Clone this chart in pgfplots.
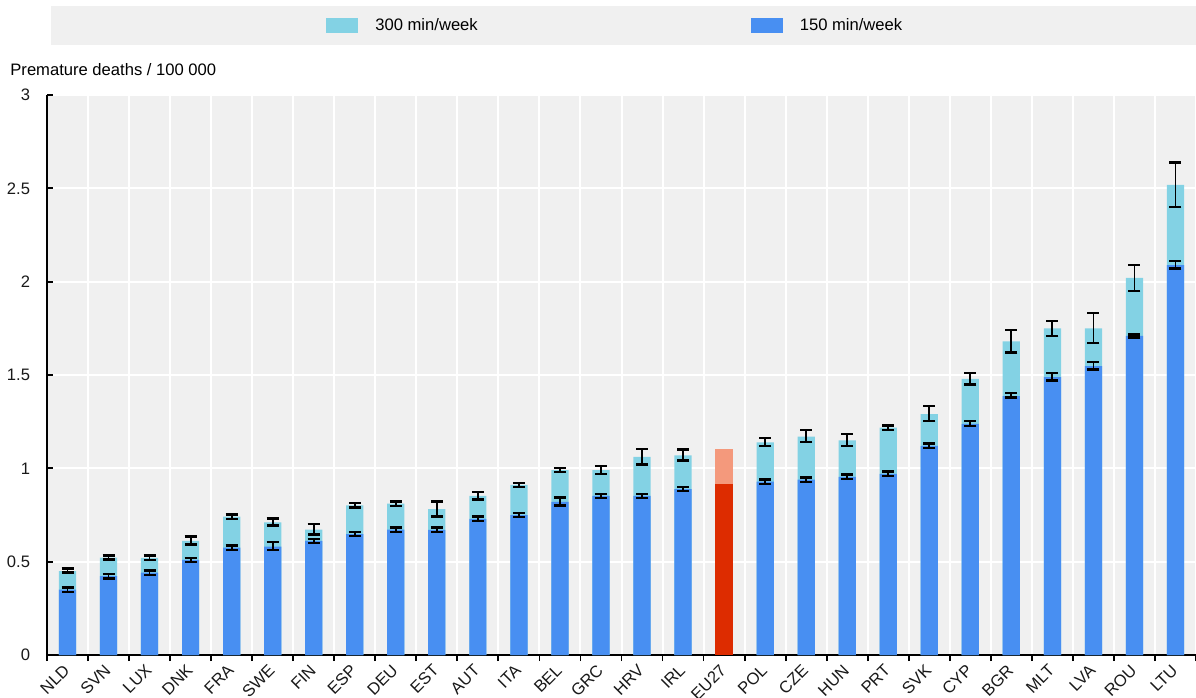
\documentclass[border=0pt]{standalone}
\usepackage{fontspec}
\setmainfont{Liberation Sans}
\usepackage{pgfplots}
\usepackage{pgfplotstable}
\pgfplotsset{compat=1.18}

\definecolor{bgray}{HTML}{F0F0F0}
\definecolor{mincyan}{HTML}{83D2E4}
\definecolor{minblue}{HTML}{488FF2}
\definecolor{eudark}{HTML}{DD2C00}
\definecolor{eulight}{HTML}{F4997C}

% Premature deaths per 100 000: 150 min/week scenario (x, value, +err, -err)
\pgfplotstableread{
x   y      ep     em
0   0.350  0.012  0.012
1   0.422  0.012  0.012
2   0.441  0.012  0.012
3   0.509  0.012  0.012
4   0.575  0.012  0.012
5   0.580  0.024  0.016
6   0.612  0.011  0.012
7   0.648  0.012  0.012
8   0.671  0.012  0.012
9   0.670  0.012  0.012
10  0.729  0.012  0.012
11  0.750  0.012  0.012
12  0.820  0.023  0.020
13  0.852  0.012  0.012
14  0.852  0.012  0.012
15  0.889  0.012  0.012
17  0.929  0.012  0.012
18  0.939  0.012  0.012
19  0.954  0.012  0.012
20  0.970  0.012  0.012
21  1.120  0.012  0.012
22  1.238  0.014  0.010
23  1.387  0.015  0.007
24  1.489  0.023  0.019
25  1.548  0.023  0.018
26  1.709  0.009  0.009
27  2.089  0.022  0.018
}\tblA

% 300 min/week scenario
\pgfplotstableread{
x   y      ep     em
0   0.450  0.014  0.009
1   0.521  0.013  0.010
2   0.520  0.012  0.012
3   0.611  0.023  0.018
4   0.741  0.012  0.012
5   0.711  0.021  0.018
6   0.671  0.031  0.026
7   0.802  0.012  0.012
8   0.811  0.012  0.012
9   0.782  0.041  0.039
10  0.852  0.021  0.020
11  0.911  0.012  0.012
12  0.991  0.012  0.012
13  0.991  0.021  0.021
14  1.061  0.043  0.041
15  1.070  0.030  0.027
17  1.139  0.025  0.018
18  1.170  0.034  0.029
19  1.150  0.034  0.029
20  1.218  0.012  0.012
21  1.291  0.043  0.039
22  1.479  0.033  0.029
23  1.680  0.061  0.060
24  1.750  0.040  0.040
25  1.750  0.082  0.079
26  2.020  0.069  0.070
27  2.518  0.121  0.118
}\tblB

\begin{document}
\fontsize{8.3bp}{10bp}\selectfont
\begin{tikzpicture}
\useasboundingbox (-23.5bp,-21.5bp) rectangle (574.5bp,327.5bp);
% legend band
\fill[bgray] (2bp,305bp) rectangle (574.5bp,324.5bp);
\begin{axis}[
  at={(0,0)}, anchor=south west,
  scale only axis,
  width=574.5bp, height=280bp,
  xmin=-0.5, xmax=27.5,
  ymin=0, ymax=3,
  ytick={0,0.5,...,3},
  xtick={0,...,27},
  xticklabels={NLD,SVN,LUX,DNK,FRA,SWE,FIN,ESP,DEU,EST,AUT,ITA,BEL,GRC,HRV,IRL,EU27,POL,CZE,HUN,PRT,SVK,CYP,BGR,MLT,LVA,ROU,LTU},
  minor xtick={-0.5,0.5,...,27.5},
  xminorgrids, ymajorgrids,
  grid style={white, line width=1bp},
  minor grid style={white, line width=1bp},
  axis background/.style={fill=bgray},
  axis x line*=bottom, axis y line*=left,
  axis line style={-, black, line width=1bp},
  tick align=inside,
  tick style={black, line width=0.9bp},
  major x tick style={draw=none},
  minor tick length=3bp,
  major tick length=3bp,
  /pgf/number format/assume math mode=true,
  tick label style={font=\fontsize{8.3bp}{10bp}\selectfont, color=black!90},
  yticklabel style={xshift=-5.5bp},
  xticklabel style={rotate=45, anchor=east, inner sep=0pt, xshift=-2.5bp, yshift=-2bp},
  ylabel={Premature deaths / 100 000},
  ylabel style={rotate=-90, at={(axis description cs:-0.0322,1.0446)}, anchor=west, inner sep=0pt, font=\fontsize{8.3bp}{10bp}\selectfont},
  ybar, bar width=0.42,
  legend columns=2,
  legend style={draw=none, fill=none, at={(axis description cs:0.2428,1.124)}, anchor=west, inner sep=0pt,
    font=\fontsize{8.3bp}{10bp}\selectfont,
    /tikz/every even column/.append style={column sep=133bp},
    nodes={inner xsep=3.5bp}},
  legend image code/.code={\fill[#1, draw=none] (0bp,-3.75bp) rectangle (16bp,3.75bp); \path (21bp,0bp);},
  error bars/error bar style={black, line width=0.9bp},
  error bars/error mark options={black, line width=1.2bp, mark size=3bp, rotate=90},
]
\addplot[fill=mincyan, draw=none, bar shift=0pt,
  error bars/.cd, y dir=both, y explicit]
  table[x=x, y=y, y error plus=ep, y error minus=em] {\tblB};
\addlegendentry{300 min/week}
\addplot[fill=minblue, draw=none, bar shift=0pt,
  error bars/.cd, y dir=both, y explicit]
  table[x=x, y=y, y error plus=ep, y error minus=em] {\tblA};
\addlegendentry{150 min/week}
% EU27 average
\addplot[fill=eulight, draw=none, bar shift=0pt, forget plot] coordinates {(16,1.104)};
\addplot[fill=eudark, draw=none, bar shift=0pt, forget plot] coordinates {(16,0.916)};
\end{axis}
\end{tikzpicture}
\end{document}
